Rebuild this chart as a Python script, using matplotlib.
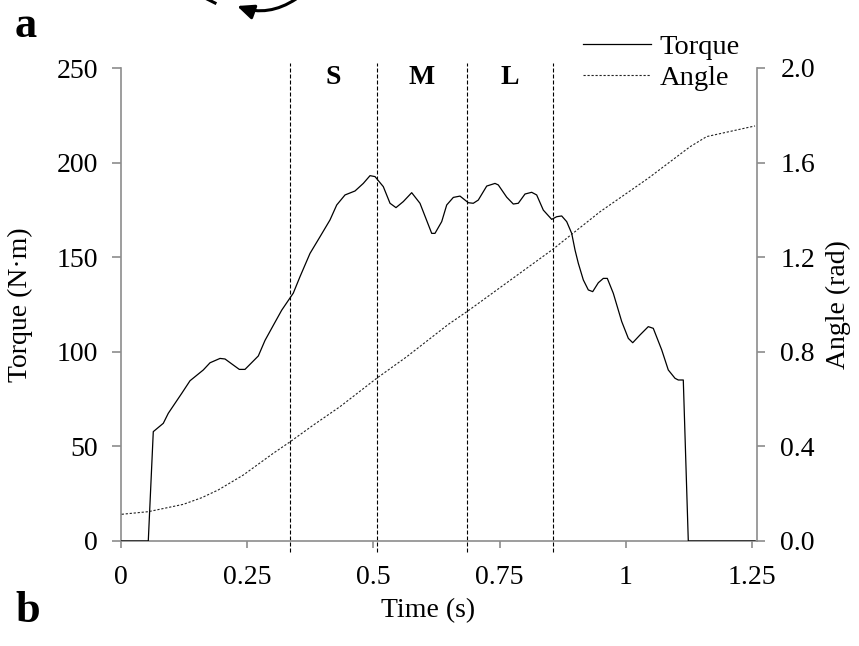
import matplotlib
matplotlib.use('Agg')
import matplotlib.pyplot as plt
from matplotlib.patches import FancyArrowPatch
from matplotlib.lines import Line2D

# ---------------- data ----------------
time_torque = [0.0, 0.0546, 0.0645, 0.0843, 0.0942, 0.1207, 0.1372, 0.1635, 0.1768, 0.1966,
               0.2065, 0.2229, 0.2348, 0.2460, 0.2724, 0.2856, 0.3021, 0.3187, 0.3416, 0.3549,
               0.3747, 0.3945, 0.4143, 0.4276, 0.4440, 0.4638, 0.4802, 0.4935, 0.5034, 0.5198,
               0.5331, 0.5449, 0.5594, 0.5760, 0.5924, 0.6156, 0.6221, 0.6354, 0.6453, 0.6584,
               0.6716, 0.6881, 0.6979, 0.7078, 0.7245, 0.7409, 0.7474, 0.7641, 0.7771, 0.7870,
               0.8003, 0.8135, 0.8234, 0.8365, 0.8531, 0.8630, 0.8729, 0.8828, 0.8927, 0.8993,
               0.9058, 0.9157, 0.9256, 0.9343, 0.9454, 0.9553, 0.9632, 0.9751, 0.9917, 1.0048,
               1.0135, 1.0279, 1.0443, 1.0542, 1.0709, 1.0839, 1.0972, 1.1037, 1.1136, 1.1235,
               1.2556]
torque = [0, 0, 57.8, 62.2, 67.5, 78.0, 84.7, 90.4, 94.2, 96.5,
          96.2, 93.0, 90.7, 90.7, 97.8, 106.0, 114.0, 122.0, 131.0, 139.7,
          152.0, 160.8, 169.7, 177.6, 182.9, 185.0, 189.0, 193.1, 192.6, 187.3,
          178.5, 176.2, 179.4, 184.1, 178.5, 162.6, 162.6, 168.8, 177.6, 181.6,
          182.3, 178.8, 178.5, 180.2, 187.6, 189.0, 188.2, 181.7, 178.1, 178.5,
          183.4, 184.3, 182.9, 174.9, 170.0, 171.4, 171.8, 168.8, 162.6, 153.8,
          146.8, 138.0, 132.7, 131.8, 136.5, 138.8, 138.8, 130.9, 116.0, 107.1,
          104.8, 108.9, 113.3, 112.4, 101.0, 90.4, 86.0, 85.1, 85.1, 0,
          0]
time_angle = [0.002, 0.0546, 0.1239, 0.1603, 0.1932, 0.2427, 0.3021, 0.3357, 0.3812, 0.4341,
              0.5067, 0.5661, 0.6485, 0.6881, 0.8551, 0.9487, 1.0443, 1.1269, 1.1599, 1.2556]
angle = [0.113, 0.124, 0.155, 0.183, 0.216, 0.279, 0.371, 0.420, 0.490, 0.568,
         0.688, 0.779, 0.916, 0.974, 1.233, 1.392, 1.534, 1.667, 1.710, 1.755]

phase_bounds = [0.336, 0.507, 0.685, 0.855]
phase_labels = ['S', 'M', 'L']
x_ticks = [0, 0.25, 0.5, 0.75, 1.0, 1.25]
x_tick_labels = ['0', '0.25', '0.5', '0.75', '1', '1.25']
torque_ticks = [0, 50, 100, 150, 200, 250]
angle_ticks = [0.0, 0.4, 0.8, 1.2, 1.6, 2.0]
series_names = ['Torque', 'Angle']

# ---------------- style ----------------
plt.rcParams['font.family'] = ['Liberation Serif', 'DejaVu Serif']
W, H = 859, 646
GRAY = '#8c8c8c'
FS = 20

fig = plt.figure(figsize=(W / 100, H / 100), dpi=100)
ax = fig.add_axes([120.7 / W, 1 - 541 / H, 636 / W, 473 / H])
ax.set_xlim(0, 636 / 505.2)
ax.set_ylim(0, 250)
ax.patch.set_alpha(0)

for s in ['top', 'right']:
    ax.spines[s].set_visible(False)
for s in ['left', 'bottom']:
    ax.spines[s].set_color(GRAY)
    ax.spines[s].set_linewidth(1.2)

ax.set_xticks(x_ticks)
ax.set_xticklabels(x_tick_labels)
ax.set_yticks(torque_ticks)
ax.tick_params(axis='x', direction='out', length=5, width=1.2, color=GRAY,
               labelsize=FS, pad=12)
ax.tick_params(axis='y', direction='out', length=6.5, width=1.2, color=GRAY,
               labelsize=FS, pad=10)

torque_line, = ax.plot(time_torque, torque, color='black', lw=0.9, zorder=3,
                       label=series_names[0])

ax.vlines(phase_bounds, -5.8, 252.6, colors='black', linestyles=(0, (3.6, 1.8)),
          lw=0.8, clip_on=False, zorder=2)
for i, lab in enumerate(phase_labels):
    xm = (phase_bounds[i] + phase_bounds[i + 1]) / 2
    ax.text(xm, 245.0, lab, ha='center', va='center', fontsize=FS,
            fontweight='bold', clip_on=False)

ax.set_xlabel('Time (s)', fontsize=FS)
ax.xaxis.set_label_coords((428 - 120.7) / 636, -(598 - 541) / 473)
ax.set_ylabel('Torque (N·m)', fontsize=FS)
ax.yaxis.set_label_coords((33 - 120.7) / 636, 0.5)

ax2 = ax.twinx()
ax2.set_ylim(0, 2.0)
for s in ['top', 'left', 'bottom']:
    ax2.spines[s].set_visible(False)
ax2.spines['right'].set_color(GRAY)
ax2.spines['right'].set_linewidth(1.2)
ax2.set_yticks(angle_ticks)
ax2.set_yticklabels([f'{v:.1f}' for v in angle_ticks])
ax2.tick_params(axis='y', direction='out', length=6, width=1.2, color=GRAY,
                labelsize=FS, pad=11)
angle_line, = ax2.plot(time_angle, angle, color='#222222', lw=0.8,
                       dashes=(2.0, 1.6), label=series_names[1])
ax2.set_ylabel('Angle (rad)', fontsize=FS)
ax2.yaxis.set_label_coords((826 - 120.7) / 636, 0.5)

ax2.legend(handles=[torque_line, angle_line], loc='upper left',
           bbox_to_anchor=(583 / W, 1 - 34 / H), bbox_transform=fig.transFigure,
           frameon=False, fontsize=20.5, handlelength=2.4, handletextpad=0.3,
           labelspacing=0.18, borderpad=0, borderaxespad=0)

# panel letters
fig.text(15 / W, 1 - 37 / H, 'a', fontsize=32, fontweight='bold', va='baseline', ha='left')
fig.text(15 / W, 1 - 622 / H, 'b', fontsize=32, fontweight='bold', va='baseline', ha='left')

# partial curved arrow at the top edge
arr = FancyArrowPatch((296 / W, 1 + 1 / H), (237 / W, 1 - 6 / H),
                      transform=fig.transFigure, connectionstyle='arc3,rad=-0.25',
                      arrowstyle='-|>,head_length=0.5,head_width=0.22',
                      mutation_scale=20, lw=2.2, color='black',
                      shrinkA=0, shrinkB=0)
fig.patches.append(arr)
fig.lines.append(Line2D([207 / W, 215 / W], [1 + 1 / H, 1 - 3 / H],
                        transform=fig.transFigure, color='black', lw=2.2))

fig.savefig('out.png', dpi=100)
